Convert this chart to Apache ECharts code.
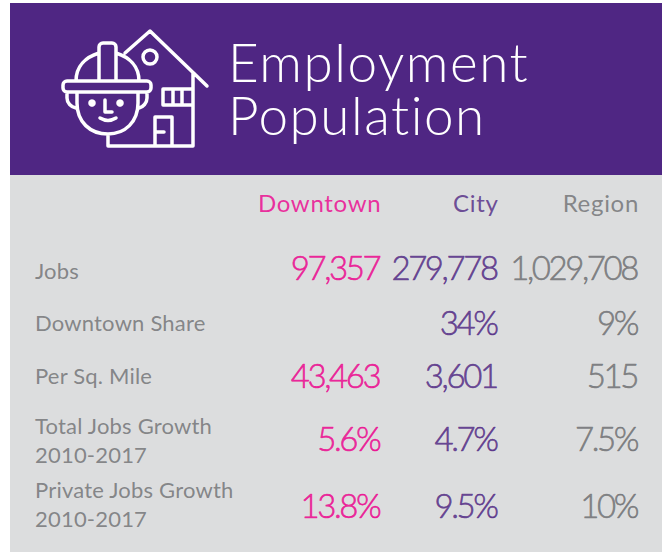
<!DOCTYPE html>
<html lang="en">
<head>
    <meta charset="UTF-8">
    <title>Employment Population</title>
    <style>
        html, body { margin: 0; padding: 0; background: #fff; }
        #container { width: 662px; height: 552px; }
        #container text { font-variant-ligatures: none; }
    </style>
</head>
<body>
    <div id="container"></div>
    <script src="https://cdn.jsdelivr.net/npm/echarts@6/dist/echarts.min.js"></script>
    <script>
        var titleText = 'Employment\nPopulation';
        var columns = ['Downtown', 'City', 'Region'];
        var rowLabels = ['Jobs', 'Downtown Share', 'Per Sq. Mile', 'Total Jobs Growth\n2010-2017', 'Private Jobs Growth\n2010-2017'];
        var downtown = ['97,357', '', '43,463', '5.6%', '13.8%'];
        var city = ['279,778', '34%', '3,601', '4.7%', '9.5%'];
        var region = ['1,029,708', '9%', '515', '7.5%', '10%'];

        var purple = '#4f2683';
        var pink = '#ec008c';
        var gray = '#6d6e71';
        var panel = '#dcddde';
        var textFont = 'Lato';

        // the source table is not evenly spaced, so nudge rows and columns off the axis positions
        var rowNudge = [-2, 3, -3, -10, -8, -1];
        var labelRowNudge = [0, 6, -2, -10, -6, -2];
        var headerNudge = [0, 145, 61, 0];
        var columnNudge = [0, 143, 59, -2];

        var xCategories = [''].concat(columns);
        var yCategories = ['header'].concat(rowLabels);

        function valueSeries(name, colIndex, values, color) {
            var data = [{
                value: [colIndex, 0],
                label: { formatter: name, fontSize: 24, fontWeight: 400, textBorderWidth: 0, offset: [headerNudge[colIndex], rowNudge[0]] }
            }];
            values.forEach(function (v, i) {
                if (v === '') return;
                data.push({
                    value: [colIndex, i + 1],
                    label: { formatter: v, offset: [columnNudge[colIndex], rowNudge[i + 1]] }
                });
            });
            return {
                name: name,
                type: 'scatter',
                symbolSize: 0,
                silent: true,
                data: data,
                label: {
                    show: true,
                    position: 'left',
                    distance: 0,
                    align: 'right',
                    color: color,
                    textBorderColor: color,
                    textBorderWidth: 0.6,
                    fontFamily: textFont,
                    fontWeight: 300,
                    fontSize: 33
                }
            };
        }

        var labelSeries = {
            name: 'rows',
            type: 'scatter',
            symbolSize: 0,
            silent: true,
            data: rowLabels.map(function (t, i) {
                return {
                    value: [0, i + 1],
                    label: { formatter: t, offset: [0, labelRowNudge[i + 1]] }
                };
            }),
            label: {
                show: true,
                position: 'right',
                distance: 0,
                align: 'left',
                color: gray,
                fontFamily: textFont,
                fontSize: 22,
                lineHeight: 29
            }
        };

        // hard hat and house icon
        var iconPath = 'M125 53 L150 31 L207 86 M193 73 V146 H108 V134' +
            'M143 57 a7 7 0 1 0 14 0 a7 7 0 1 0 -14 0' +
            'M163 89 H193 M163 89 V105 H193 M173 89 V105 M182 89 V105' +
            'M155 146 V117 H172 V146 M157 132 H164' +
            'M67 81 H147 a4 4 0 0 1 4 4 V88 a4 4 0 0 1 -4 4 H67 a4 4 0 0 1 -4 -4 V85 a4 4 0 0 1 4 -4 Z' +
            'M76 81 C76 66 86 57 99 53 M116 53 C129 57 139 66 139 81' +
            'M99 81 V47 a4 4 0 0 1 4 -4 H112 a4 4 0 0 1 4 4 V81' +
            'M77 92 V103 C77 122 90 134 108 134 C125 134 138 122 138 103 V92' +
            'M67 92 V98 C67 103 71 107 76 108 M147 92 V98 C147 103 143 107 139 108' +
            'M105 100 V112 H112 M100 118 C105 121 111 121 116 118';
        echarts.graphic.registerShape('workerIcon', echarts.graphic.extendPath(iconPath));

        var chart = echarts.init(document.getElementById('container'), null, { renderer: 'svg' });
        chart.setOption({
            animation: false,
            backgroundColor: '#ffffff',
            title: {
                text: titleText,
                left: 223,
                top: 30,
                textStyle: {
                    color: '#ffffff',
                    fontFamily: textFont,
                    fontWeight: 300,
                    fontSize: 53,
                    lineHeight: 53
                }
            },
            graphic: {
                elements: [
                    { type: 'rect', z: -10, shape: { x: 10, y: 3, width: 652, height: 172 }, style: { fill: purple } },
                    { type: 'rect', z: -10, shape: { x: 10, y: 175, width: 652, height: 377 }, style: { fill: panel } },
                    {
                        type: 'workerIcon',
                        z: 5,
                        style: { fill: 'none', stroke: '#ffffff', lineWidth: 3.5, lineCap: 'round', lineJoin: 'round' }
                    },
                    { type: 'circle', z: 5, shape: { cx: 92, cy: 103, r: 3.8 }, style: { fill: '#ffffff' } },
                    { type: 'circle', z: 5, shape: { cx: 120, cy: 103, r: 3.8 }, style: { fill: '#ffffff' } }
                ]
            },
            grid: { left: 35, right: 23, top: 204, height: 302 },
            xAxis: { type: 'category', data: xCategories, boundaryGap: false, show: false },
            yAxis: { type: 'category', data: yCategories, boundaryGap: false, inverse: true, show: false },
            series: [
                labelSeries,
                valueSeries(columns[0], 1, downtown, pink),
                valueSeries(columns[1], 2, city, purple),
                valueSeries(columns[2], 3, region, gray)
            ]
        });

        // echarts has no tracking option, so set it on the svg nodes by text size
        var spacingBySize = { '53px': '1.5px', '33px': '-2.4px', '24px': '0.7px', '22px': '0.2px' };
        Array.prototype.forEach.call(document.querySelectorAll('#container text'), function (node) {
            var spacing = spacingBySize[getComputedStyle(node).fontSize];
            if (spacing) node.style.letterSpacing = spacing;
        });
    </script>
</body>
</html>
